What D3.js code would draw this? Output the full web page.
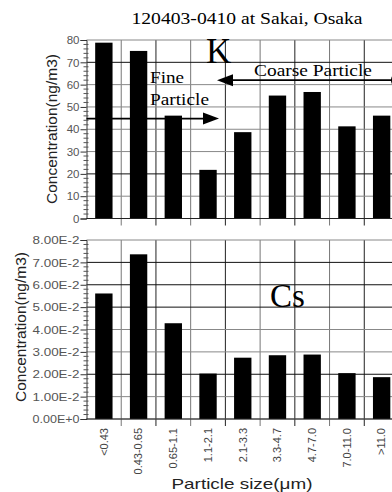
<!DOCTYPE html>
<html><head><meta charset="utf-8">
<script src="https://cdn.jsdelivr.net/npm/d3@7"></script>
<style>body{margin:0;background:#fff;overflow:hidden}svg{display:block}</style>
</head><body>
<script>
const categories = ["<0.43","0.43-0.65","0.65-1.1","1.1-2.1","2.1-3.3","3.3-4.7","4.7-7.0","7.0-11.0",">11.0"];
const kValues = [78.8,75.1,46.1,21.8,38.7,55.1,56.7,41.3,46.1];
const csValues = [0.0561,0.0736,0.0428,0.0203,0.0274,0.0285,0.0288,0.0205,0.0187];
const kTicks = [0,10,20,30,40,50,60,70,80];
const csTicks = [0,0.01,0.02,0.03,0.04,0.05,0.06,0.07,0.08];
const csTickLabels = ["0.00E+0","1.00E-2","2.00E-2","3.00E-2","4.00E-2","5.00E-2","6.00E-2","7.00E-2","8.00E-2"];
const kDarkLines = [70,20];
const csDarkLines = [0.07,0.06,0.05,0.02];

const W=392,H=492;
const svg=d3.select("body").append("svg").attr("width",W).attr("height",H);
const left=86.5,right=399;
const x=d3.scaleBand().domain(categories).range([left,right]).paddingInner(0.5).paddingOuter(0.25);
const bandStep=x.step();
const bounds=d3.range(categories.length+1).map(i=>left+i*bandStep);

function panel(top,bottom,domainMax,values,ticks,tickLabels,darkLines,minorStep,labelLen){
  const y=d3.scaleLinear().domain([0,domainMax]).range([bottom,top]);
  const g=svg.append("g");
  bounds.slice(1).forEach((bx,i)=>{
    g.append("line").attr("x1",bx).attr("x2",bx).attr("y1",top).attr("y2",bottom+7)
     .attr("stroke",i%2? "#222":"#777").attr("stroke-width",1);
  });
  ticks.forEach(t=>{
    const dark=darkLines.some(d=>Math.abs(d-t)<1e-9);
    g.append("line").attr("x1",left).attr("x2",right).attr("y1",y(t)).attr("y2",y(t))
     .attr("stroke",dark?"#111":"#888").attr("stroke-width",1);
  });
  g.selectAll("rect.bar").data(values).enter().append("rect")
   .attr("x",(d,i)=>x(categories[i])).attr("width",x.bandwidth())
   .attr("y",d=>y(d)).attr("height",d=>bottom-y(d)).attr("fill","#000");
  const ax=d3.axisLeft(y).tickValues(ticks).tickSize(6).tickFormat((d,i)=>tickLabels[i]);
  const ag=g.append("g").attr("transform",`translate(${left},0)`).call(ax);
  ag.select(".domain").attr("stroke","#333");
  ag.selectAll(".tick line").attr("stroke","#333");
  const tx=ag.selectAll("text").attr("font-family","Liberation Sans, Arial, sans-serif").attr("font-size",11.5).attr("fill","#555").attr("x",-7);
  if(labelLen) tx.attr("textLength",labelLen).attr("lengthAdjust","spacingAndGlyphs");
  const minors=d3.range(0,domainMax+1e-9,minorStep).filter(v=>!ticks.some(t=>Math.abs(t-v)<1e-9));
  g.selectAll("line.minor").data(minors).enter().append("line")
   .attr("x1",left-3).attr("x2",left+2).attr("y1",d=>y(d)).attr("y2",d=>y(d)).attr("stroke","#555");
  g.append("line").attr("x1",left).attr("x2",right).attr("y1",bottom).attr("y2",bottom).attr("stroke","#222");
  return y;
}

const yK=panel(40,218.5,80,kValues,kTicks,kTicks.map(String),kDarkLines,2,null);
const yC=panel(240,419,0.08,csValues,csTicks,csTickLabels,csDarkLines,0.002,47);

svg.append("text").attr("x",247).attr("y",24).attr("text-anchor","middle")
 .attr("font-family","Liberation Serif, Times New Roman, serif").attr("font-size",16)
 .attr("textLength",231).attr("lengthAdjust","spacingAndGlyphs").text("120403-0410 at Sakai, Osaka");

[[57,129],[26,327]].forEach(([cx,cy])=>{
  svg.append("text").attr("transform",`translate(${cx},${cy}) rotate(-90)`).attr("text-anchor","middle")
   .attr("font-family","Liberation Sans, Arial, sans-serif").attr("font-size",14).attr("fill","#222")
   .attr("textLength",150).attr("lengthAdjust","spacingAndGlyphs").text("Concentration(ng/m3)");
});

svg.selectAll("text.xl").data(categories).enter().append("text")
 .attr("transform",d=>`translate(${x(d)+x.bandwidth()/2},428) rotate(-90)`)
 .attr("text-anchor","end").attr("dy","0.35em")
 .attr("font-family","Liberation Sans, Arial, sans-serif").attr("font-size",11).attr("fill","#444")
 .text(d=>d);

svg.append("text").attr("x",242).attr("y",489).attr("text-anchor","middle")
 .attr("font-family","Liberation Sans, Arial, sans-serif").attr("font-size",15).attr("fill","#222")
 .attr("textLength",141).attr("lengthAdjust","spacingAndGlyphs").text("Particle size(μm)");

const serif="Liberation Serif, Times New Roman, serif";
svg.append("text").attr("x",206).attr("y",63).attr("font-family",serif).attr("font-size",35).text("K");
svg.append("text").attr("x",150).attr("y",83).attr("font-family",serif).attr("font-size",17)
 .attr("textLength",34).attr("lengthAdjust","spacingAndGlyphs").text("Fine");
svg.append("text").attr("x",150).attr("y",105).attr("font-family",serif).attr("font-size",17)
 .attr("textLength",59).attr("lengthAdjust","spacingAndGlyphs").text("Particle");
svg.append("text").attr("x",254).attr("y",76).attr("font-family",serif).attr("font-size",17)
 .attr("textLength",118).attr("lengthAdjust","spacingAndGlyphs").text("Coarse Particle");

const fineY=yK(44.8), coarseY=yK(62);
svg.append("line").attr("x1",left).attr("x2",205).attr("y1",fineY).attr("y2",fineY).attr("stroke","#000").attr("stroke-width",1.8);
svg.append("path").attr("d",`M219,${fineY} L203,${fineY-6} L203,${fineY+6} Z`).attr("fill","#000");
svg.append("line").attr("x1",230).attr("x2",400).attr("y1",coarseY).attr("y2",coarseY).attr("stroke","#000").attr("stroke-width",1.8);
svg.append("path").attr("d",`M217,${coarseY} L233,${coarseY-6} L233,${coarseY+6} Z`).attr("fill","#000");
svg.append("ellipse").attr("cx",395).attr("cy",coarseY).attr("rx",4).attr("ry",6).attr("fill","#000");

svg.append("text").attr("x",270).attr("y",307).attr("font-family",serif).attr("font-size",33).text("Cs");
</script>
</body></html>
